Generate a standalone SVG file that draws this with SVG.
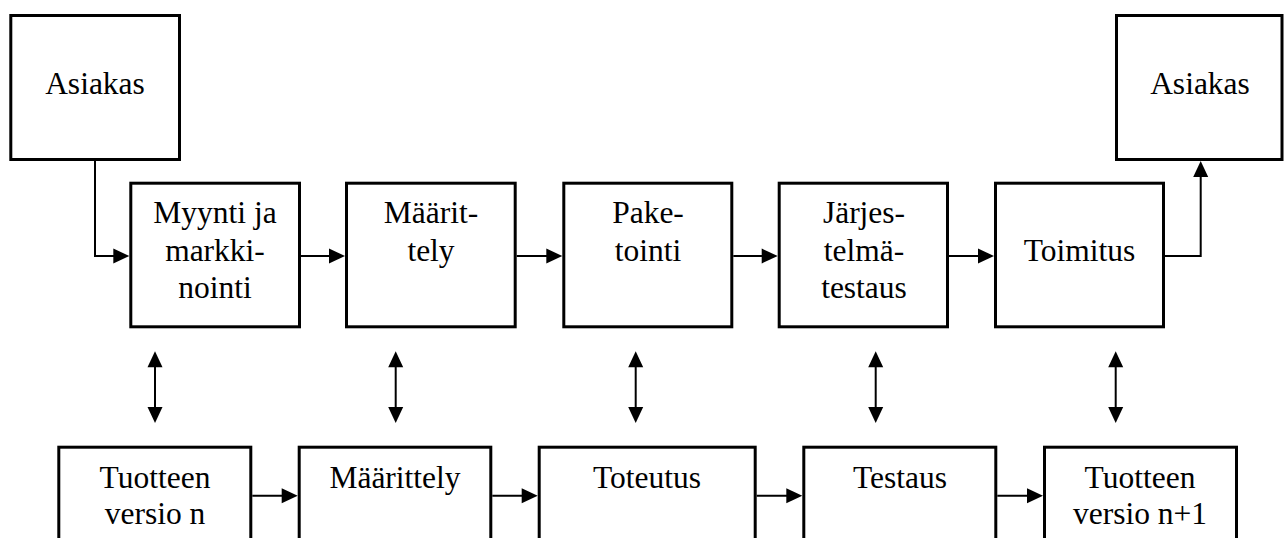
<svg xmlns="http://www.w3.org/2000/svg" width="1284" height="538" viewBox="0 0 1284 538">
  <style>
    .box { fill: #ffffff; stroke: #000000; stroke-width: 3; }
    .lbl { font-family: "Liberation Serif", "Times New Roman", serif; font-size: 31.5px; fill: #000000; text-anchor: middle; }
    .link { fill: none; stroke: #000000; stroke-width: 2; }
    .arrow { marker-end: url(#head); }
    .both { marker-start: url(#head); marker-end: url(#head); }
  </style>
  <defs>
    <marker id="head" markerUnits="userSpaceOnUse" markerWidth="16" markerHeight="16" refX="8" refY="7.5" orient="auto-start-reverse" overflow="visible">
      <path d="M0,0 L16,7.5 L0,15 Z" fill="#000000"/>
    </marker>
  </defs>
  <rect width="1284" height="538" fill="#ffffff"/>

  <!-- process chain, top row -->
  <g id="asiakas-in">
    <rect class="box" x="10.8" y="15.5" width="168.7" height="144"/>
    <text class="lbl" x="95" y="93.5">Asiakas</text>
  </g>
  <g id="myynti">
    <rect class="box" x="130.8" y="183.2" width="168.7" height="143.6"/>
    <text class="lbl" x="215" y="223">Myynti ja</text>
    <text class="lbl" x="215" y="260.5">markki-</text>
    <text class="lbl" x="215" y="298">nointi</text>
  </g>
  <g id="maarittely-top">
    <rect class="box" x="346.5" y="183.2" width="168.7" height="143.6"/>
    <text class="lbl" x="431" y="223">Määrit-</text>
    <text class="lbl" x="431" y="260.5">tely</text>
  </g>
  <g id="paketointi">
    <rect class="box" x="563.8" y="183.2" width="168" height="143.6"/>
    <text class="lbl" x="648" y="223">Pake-</text>
    <text class="lbl" x="648" y="260.5">tointi</text>
  </g>
  <g id="jarjestelmatestaus">
    <rect class="box" x="779.2" y="183.2" width="168.3" height="143.6"/>
    <text class="lbl" x="864" y="223">Järjes-</text>
    <text class="lbl" x="864" y="260.5">telmä-</text>
    <text class="lbl" x="864" y="298">testaus</text>
  </g>
  <g id="toimitus">
    <rect class="box" x="995.5" y="183.2" width="168" height="143.6"/>
    <text class="lbl" x="1079.5" y="260.5">Toimitus</text>
  </g>
  <g id="asiakas-out">
    <rect class="box" x="1116.5" y="15.5" width="165.5" height="144"/>
    <text class="lbl" x="1200" y="93.5">Asiakas</text>
  </g>

  <!-- product versions, bottom row -->
  <g id="versio-n">
    <rect class="box" x="58.8" y="447.2" width="192" height="130"/>
    <text class="lbl" x="155" y="488">Tuotteen</text>
    <text class="lbl" x="155" y="523.7">versio n</text>
  </g>
  <g id="maarittely">
    <rect class="box" x="299.2" y="447.2" width="191.6" height="130"/>
    <text class="lbl" x="395" y="488">Määrittely</text>
  </g>
  <g id="toteutus">
    <rect class="box" x="539.2" y="447.2" width="216" height="130"/>
    <text class="lbl" x="647" y="488">Toteutus</text>
  </g>
  <g id="testaus">
    <rect class="box" x="803.8" y="447.2" width="192" height="130"/>
    <text class="lbl" x="900" y="488">Testaus</text>
  </g>
  <g id="versio-n1">
    <rect class="box" x="1044.5" y="447.2" width="192" height="130"/>
    <text class="lbl" x="1140" y="488">Tuotteen</text>
    <text class="lbl" x="1140" y="523.7">versio n+1</text>
  </g>

  <g id="connectors">
    <!-- top row flow -->
    <path class="link arrow" d="M95,161 V256 H121.3"/>
    <path class="link arrow" d="M301,256 H337"/>
    <path class="link arrow" d="M516.7,256 H554.3"/>
    <path class="link arrow" d="M733.3,256 H769.7"/>
    <path class="link arrow" d="M949,256 H986"/>
    <path class="link arrow" d="M1165,256 H1200.7 V169"/>
    <!-- links between rows -->
    <path class="link both" d="M155,359.3 V415"/>
    <path class="link both" d="M395.7,359.3 V415"/>
    <path class="link both" d="M635.7,359.3 V415"/>
    <path class="link both" d="M875.7,359.3 V415"/>
    <path class="link both" d="M1115.7,359.3 V415"/>
    <!-- bottom row flow -->
    <path class="link arrow" d="M252.3,495.7 H289.7"/>
    <path class="link arrow" d="M492.3,495.7 H529.7"/>
    <path class="link arrow" d="M756.7,495.7 H794.3"/>
    <path class="link arrow" d="M997.3,495.7 H1035"/>
  </g>
</svg>
